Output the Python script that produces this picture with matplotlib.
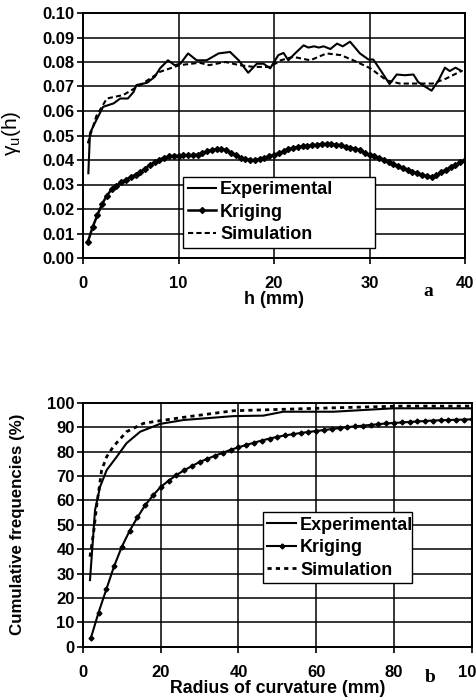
import numpy as np
import matplotlib
matplotlib.use("Agg")
import matplotlib.pyplot as plt

plt.rcParams['font.family'] = ['Liberation Sans', 'DejaVu Sans']
plt.rcParams['font.weight'] = 'bold'
plt.rcParams['mathtext.default'] = 'regular'

# ---- panel a : variograms ----
h_exp = [0.56, 0.73, 1.4, 2.1, 3.2, 3.9, 4.7, 5.3, 5.6, 6.7, 7.5, 8.06, 8.9, 9.6, 10.2,
         11.0, 11.9, 12.95, 14.2, 15.4, 16.3, 17.3, 18.2, 18.9, 19.6, 20.45, 21.0, 21.5,
         22.2, 23.1, 23.6, 24.2, 24.7, 25.2, 25.9, 26.6, 27.2, 27.96, 29.0, 29.9, 30.4,
         31.3, 32.1, 32.85, 33.7, 34.6, 35.1, 35.6, 36.5, 37.2, 37.9, 38.4, 39.0, 39.65]
g_exp = [0.0346, 0.051, 0.0563, 0.0617, 0.0631, 0.0651, 0.0651, 0.0678, 0.0706, 0.0715,
         0.0739, 0.0774, 0.0807, 0.0787, 0.0793, 0.0835, 0.0807, 0.0807, 0.0835, 0.0841,
         0.0807, 0.0756, 0.0793, 0.0793, 0.0774, 0.0828, 0.0837, 0.0807, 0.0835, 0.0868,
         0.0859, 0.0864, 0.0859, 0.0864, 0.0853, 0.0875, 0.0864, 0.0883, 0.0835, 0.081,
         0.081, 0.0758, 0.0710, 0.0749, 0.0746, 0.0749, 0.0718, 0.0705, 0.0683, 0.0723,
         0.0777, 0.0763, 0.0777, 0.0763]

h_sim = [0.5, 1.4, 2.5, 4.2, 6.0, 7.6, 8.06, 10.1, 12.2, 13.2, 14.9, 16.4, 17.9, 19.6, 20.7,
         22.0, 23.8, 25.5, 27.0, 28.3, 30.1, 31.8, 33.2, 34.9, 36.6, 38.0, 39.6]
g_sim = [0.0468, 0.058, 0.0651, 0.0665, 0.0706, 0.0747, 0.076, 0.0787, 0.0797, 0.0787,
         0.080, 0.0787, 0.078, 0.078, 0.0807, 0.0821, 0.0807, 0.0835, 0.0828, 0.0807,
         0.0774, 0.0725, 0.0712, 0.0712, 0.0712, 0.0732, 0.0763]

h_krig = [0.5, 1.0, 1.5, 2.0, 2.5, 3.0, 3.5, 4.0, 4.5, 5.0, 5.5, 6.0, 6.5, 7.0, 7.5, 8.0,
          8.5, 9.0, 9.5, 10.0, 10.5, 11.0, 11.5, 12.0, 12.5, 13.0, 13.5, 14.0, 14.5, 15.0,
          15.5, 16.0, 16.5, 17.0, 17.5, 18.0, 18.5, 19.0, 19.5, 20.0, 20.5, 21.0, 21.5, 22.0,
          22.5, 23.0, 23.5, 24.0, 24.5, 25.0, 25.5, 26.0, 26.5, 27.0, 27.5, 28.0, 28.5, 29.0,
          29.5, 30.0, 30.5, 31.0, 31.5, 32.0, 32.5, 33.0, 33.5, 34.0, 34.5, 35.0, 35.5, 36.0,
          36.5, 37.0, 37.5, 38.0, 38.5, 39.0, 39.5, 40.0]
g_krig = [0.0065, 0.0125, 0.0175, 0.022, 0.0255, 0.028, 0.0295, 0.031, 0.032, 0.033,
          0.034, 0.035, 0.0365, 0.038, 0.039, 0.040, 0.041, 0.0415, 0.0417, 0.0418,
          0.0419, 0.042, 0.042, 0.0422, 0.0428, 0.0435, 0.044, 0.0445, 0.0445, 0.044,
          0.043, 0.042, 0.041, 0.0405, 0.040, 0.040, 0.0405, 0.041, 0.0415, 0.042,
          0.0428, 0.0435, 0.0443, 0.045, 0.0453, 0.0456, 0.0458, 0.046, 0.0463, 0.0465,
          0.0465, 0.0465, 0.0463, 0.046, 0.0455, 0.045, 0.0445, 0.044, 0.043, 0.042,
          0.0415, 0.041, 0.040, 0.039, 0.0383, 0.0375, 0.0368, 0.036, 0.0353, 0.0345,
          0.034, 0.0335, 0.033, 0.0338, 0.035, 0.036, 0.037, 0.038, 0.039, 0.040]

# ---- panel b : cumulative frequencies ----
r_exp = [1.8, 3.1, 4.4, 6.1, 8.7, 11.2, 14.7, 19.8, 25.8, 38.7, 46.4, 51.5, 64.4, 79.8, 100]
f_exp = [27.3, 56, 65.6, 72.4, 77.9, 83.4, 88.1, 91.3, 92.9, 94.5, 94.7, 96.3, 96.3, 97.7, 97.7]

r_sim = [1.8, 2.7, 3.6, 4.8, 6.1, 7.8, 11.2, 15.5, 18.1, 25.8, 38.7, 51.5, 64.4, 81.5, 100]
f_sim = [36.9, 46.5, 58.8, 72.4, 77.9, 82.0, 88.1, 91.5, 92.2, 94.0, 96.7, 97.3, 97.9, 98.6, 98.6]

r_krig = list(range(2, 101, 2))
f_krig = [3.4, 14, 23.5, 33, 41, 47.5, 53, 58, 62, 65.5, 68, 70.3, 72.3, 74, 75.7, 77, 78.3,
          79.5, 80.7, 81.7, 82.7, 83.6, 84.5, 85.3, 86, 86.6, 87.1, 87.6, 88, 88.4, 88.8,
          89.2, 89.6, 90, 90.3, 90.6, 90.9, 91.2, 91.5, 91.7, 91.9, 92.1, 92.3, 92.5, 92.7,
          92.8, 92.9, 93.0, 93.1, 93.2]

fig = plt.figure(figsize=(4.76, 6.99), dpi=100)
ax1 = fig.add_axes([83 / 476, 1 - 258 / 699, 382 / 476, 245 / 699])
ax2 = fig.add_axes([83 / 476, 1 - 646.7 / 699, 388.7 / 476, 244 / 699])


def style_axes(ax):
    ax.grid(True, color='black', linewidth=1.1)
    ax.set_axisbelow(True)
    for s in ax.spines.values():
        s.set_linewidth(1.4)
    ax.tick_params(direction='out', length=4, width=1.2, labelsize=12)
    ax.tick_params(axis='x', pad=9)
    ax.tick_params(axis='y', pad=2)
    for lab in ax.get_xticklabels() + ax.get_yticklabels():
        lab.set_fontweight('bold')


def add_legend(ax, box):
    leg = ax.legend(loc='lower left', bbox_to_anchor=box, mode='expand',
                    fontsize=13, frameon=True, fancybox=False, edgecolor='black',
                    handlelength=1.6, handletextpad=0.2, borderpad=0.25, labelspacing=0.3,
                    borderaxespad=0)
    leg.get_frame().set_linewidth(1.0)
    leg.get_frame().set_alpha(1)
    return leg


# panel a
ax1.plot(h_exp, g_exp, color='black', lw=1.5, label='Experimental')
ax1.plot(h_krig, g_krig, color='black', lw=1.8, marker='D', ms=3, label='Kriging')
ax1.plot(h_sim, g_sim, color='black', lw=1.5, linestyle=(0, (2.5, 1.5)), label='Simulation')
ax1.set_xlim(0, 40)
ax1.set_ylim(0, 0.10)
ax1.set_xticks([0, 10, 20, 30, 40])
ax1.set_yticks(np.arange(0, 0.101, 0.01))
ax1.yaxis.set_major_formatter(matplotlib.ticker.FormatStrFormatter('%.2f'))
style_axes(ax1)
ax1.set_xlabel('h (mm)', fontsize=13, fontweight='bold', labelpad=0)
ax1.set_ylabel('γ$_u$(h)', fontsize=15, fontweight='normal')
ax1.yaxis.set_label_coords(-0.157, 0.51)
add_legend(ax1, (0.262, 0.042, 0.502, 0.338))

# panel b
ax2.plot(r_exp, f_exp, color='black', lw=1.5, label='Experimental')
ax2.plot(r_krig, f_krig, color='black', lw=1.5, marker='D', ms=2.5, label='Kriging')
ax2.plot(r_sim, f_sim, color='black', lw=2, linestyle=(0, (1.5, 1.5)), label='Simulation')
ax2.set_xlim(0, 100)
ax2.set_ylim(0, 100)
ax2.set_xticks([0, 20, 40, 60, 80, 100])
ax2.set_yticks(np.arange(0, 101, 10))
style_axes(ax2)
ax2.set_xlabel('Radius of curvature (mm)', fontsize=12.8, fontweight='bold', labelpad=0)
ax2.set_ylabel('Cumulative frequencies (%)', fontsize=12.2, fontweight='bold')
ax2.yaxis.set_label_coords(-0.149, 0.5)
add_legend(ax2, (0.463, 0.261, 0.383, 0.352))

fig.text(428 / 476, 1 - 292 / 699, 'a', family='Liberation Serif', fontweight='bold',
         fontsize=14, ha='center', va='center')
fig.text(430 / 476, 1 - 678 / 699, 'b', family='Liberation Serif', fontweight='bold',
         fontsize=14, ha='center', va='center')

fig.savefig('out.png', dpi=100)
